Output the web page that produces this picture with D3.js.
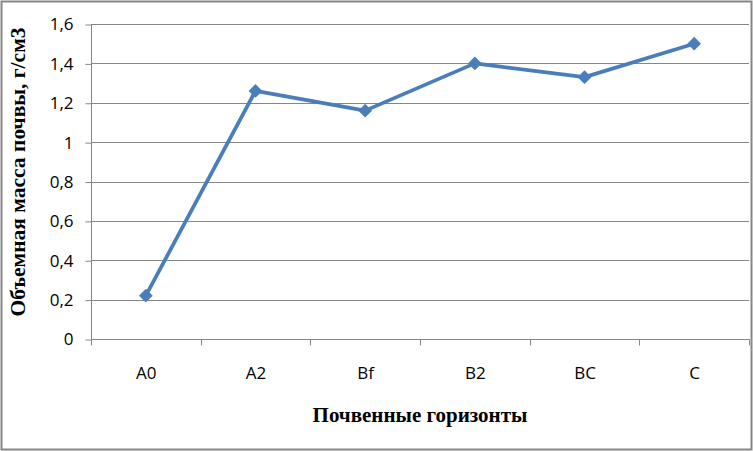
<!DOCTYPE html>
<html lang="ru">
<head>
<meta charset="UTF-8">
<title>Объемная масса почвы</title>
<script src="https://d3js.org/d3.v7.min.js"></script>
<style>
  body { margin: 0; background: #fff; }
  .axis-title { font-family: "Liberation Serif", serif; font-weight: bold; }
</style>
</head>
<body>
<svg></svg>
<script>
const horizons = ["A0", "A2", "Bf", "B2", "BC", "C"];
const density = [0.22, 1.26, 1.16, 1.40, 1.33, 1.50];
const yTicks = [0, 0.2, 0.4, 0.6, 0.8, 1, 1.2, 1.4, 1.6];

const width = 753, height = 451;
const margin = {top: 24, right: 4, bottom: 112, left: 91};

const svg = d3.select("svg")
  .attr("width", width)
  .attr("height", height)
  .attr("viewBox", [0, 0, width, height]);

// outer frame
svg.append("rect")
  .attr("x", 1.5).attr("y", 1.5)
  .attr("width", width - 3).attr("height", height - 3)
  .attr("fill", "#fff").attr("stroke", "#868686").attr("stroke-width", 2);

const x = d3.scaleBand().domain(horizons).range([margin.left, width - margin.right]);
const y = d3.scaleLinear().domain([0, 1.6]).range([height - margin.bottom, margin.top]);

const fmt = d => String(d).replace(".", ",");

// gridlines
svg.append("g")
  .selectAll("line")
  .data(yTicks.slice(1))
  .join("line")
  .attr("x1", margin.left).attr("x2", width - margin.right)
  .attr("y1", d => Math.round(y(d)) + 0.5).attr("y2", d => Math.round(y(d)) + 0.5)
  .attr("stroke", "#868686");

// y axis
const yAxis = svg.append("g")
  .attr("transform", `translate(${margin.left + 0.5},0.5)`)
  .call(d3.axisLeft(y).tickValues(yTicks).tickFormat(fmt).tickSize(6).tickPadding(12));
yAxis.selectAll("line, path").attr("stroke", "#868686");
yAxis.select(".domain").attr("d", `M0,${margin.top}V${height - margin.bottom}`);

// x axis
const xAxis = svg.append("g")
  .attr("transform", `translate(0.5,${Math.round(y(0)) + 0.5})`)
  .call(d3.axisBottom(x).tickSize(0).tickPadding(27));
xAxis.select(".domain").attr("stroke", "#868686").attr("d", `M${margin.left},0H${width - margin.right}`);
xAxis.selectAll(".tick line").remove();
xAxis.selectAll(".sep")
  .data(horizons.map(h => x(h)).concat([x.range()[1]]))
  .join("line")
  .attr("x1", d => Math.round(d)).attr("x2", d => Math.round(d))
  .attr("y1", 0).attr("y2", 6)
  .attr("stroke", "#868686");

[xAxis, yAxis].forEach(g => g.selectAll(".tick text")
  .attr("font-family", "'Open Sans', sans-serif")
  .attr("font-size", 17)
  .attr("fill", "#000"));

// line
const pts = horizons.map((h, i) => [x(h) + x.bandwidth() / 2, y(density[i])]);
svg.append("path")
  .attr("d", d3.line()(pts))
  .attr("fill", "none")
  .attr("stroke", "#4a7ebb")
  .attr("stroke-width", 3.75)
  .attr("stroke-linejoin", "round");

svg.append("g")
  .selectAll("path")
  .data(pts)
  .join("path")
  .attr("d", d3.symbol(d3.symbolDiamond2, 120))
  .attr("transform", d => `translate(${d[0]},${d[1]})`)
  .attr("fill", "#4a7ebb");

// axis titles
svg.append("text")
  .attr("class", "axis-title")
  .attr("x", (margin.left + width - margin.right) / 2)
  .attr("y", 422)
  .attr("font-size", 21)
  .attr("text-anchor", "middle")
  .text("Почвенные горизонты");

svg.append("text")
  .attr("class", "axis-title")
  .attr("font-size", 21.5)
  .attr("transform", `translate(25,172) rotate(-90)`)
  .attr("text-anchor", "middle")
  .text("Объемная масса почвы, г/см3");
</script>
</body>
</html>
